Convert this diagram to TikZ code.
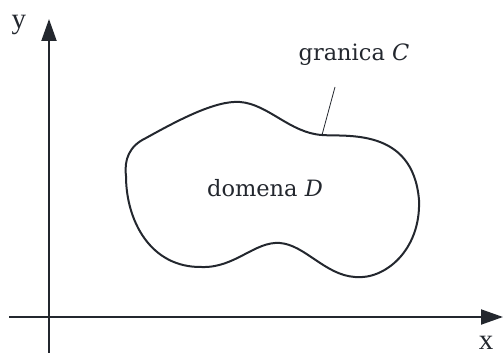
\documentclass[tikz,border=0pt]{standalone}
\usepackage{fontspec}
\setmainfont{DejaVu Serif}
\newfontfamily\axisfont{Liberation Serif}
\usetikzlibrary{arrows.meta,calc,positioning}
\definecolor{ink}{RGB}{35,39,46}

\begin{document}
\begin{tikzpicture}[x=1pt,y=-1pt,
    axis/.style={ink,line width=2pt,-{Triangle[length=22pt,width=15pt]}},
    boundary/.style={ink,line width=2pt},
    lbl/.style={ink,inner sep=0pt,anchor=base,font=\fontsize{22.5}{27}\selectfont},
    axlbl/.style={ink,inner sep=0pt,anchor=base,font=\axisfont\fontsize{29}{34}\selectfont}]

    \useasboundingbox (0,0) rectangle (503,353);

    \coordinate (xstart) at (9,317);
    \coordinate (xend) at (503,317);
    \coordinate (ystart) at (49,353);
    \coordinate (yend) at (49,19);

	\draw[axis] (xstart) -- (xend); % os x
	\draw[axis] (ystart) -- (yend); % os y
    \node[axlbl] (xlab) at (486,349) {x};
    \node[axlbl] (ylab) at (19,28.5) {y};

    % granica
    \draw[boundary] (126,176) .. controls (124,160) and (129,146) .. (146,138)
        .. controls (175,122) and (215,100) .. (240,102)
        .. controls (268,104) and (290,133) .. (322,135)
        .. controls (345,137) and (413,127) .. (419,200)
        .. controls (421,250) and (385,280) .. (355,277)
        .. controls (325,275) and (305,245) .. (280,243)
        .. controls (255,241) and (235,268) .. (202,267)
        .. controls (150,268) and (126,220) .. cycle;

    \node[lbl] (dom) at (265,196) {domena \textit{D}};
    \node[lbl] (gran) at (354,61) {granica \textit{C}};
    \coordinate (touch) at (322,135);
    \coordinate (lead) at (335,87);
    \draw[ink,line width=0.8pt] (touch) -- (lead);

\end{tikzpicture}
\end{document}
